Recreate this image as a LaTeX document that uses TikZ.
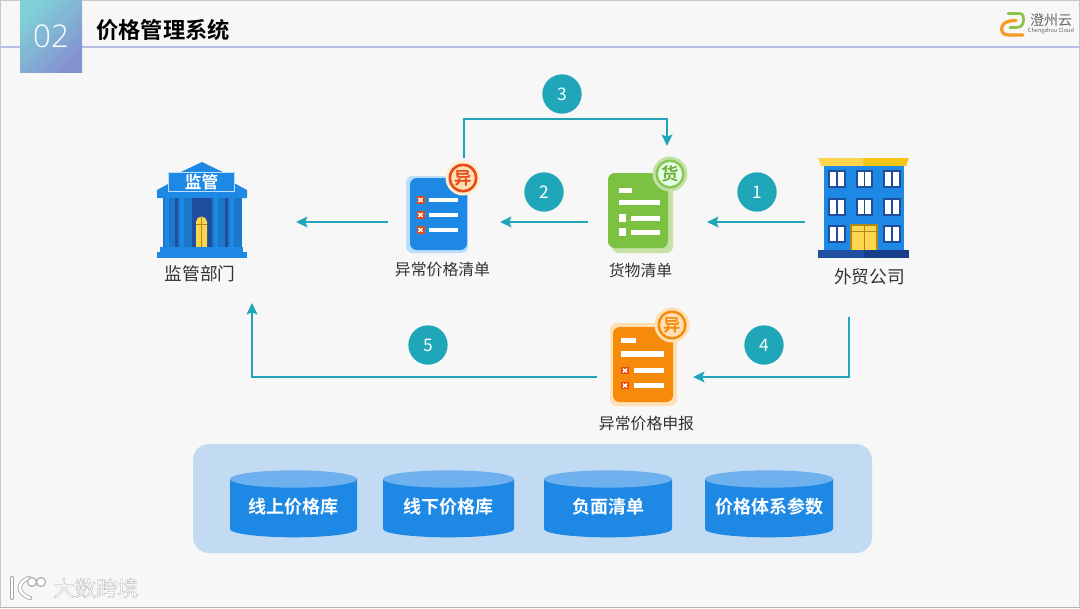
\documentclass[tikz,border=0pt]{standalone}
\usepackage{fontspec}
\setmainfont{Noto Sans CJK SC}
\newfontfamily\cjkbold[BoldFont={Noto Sans CJK SC Bold}]{Noto Sans CJK SC}
\newfontfamily\wmfont[FakeBold=1.2]{Noto Sans CJK SC}
\newfontfamily\latinthin{Open Sans Light}
\usetikzlibrary{arrows.meta,fit,calc}
\definecolor{teal1}{HTML}{1FA6B8}
\definecolor{blueA}{HTML}{1E88E5}
\definecolor{blueD}{HTML}{1E4E9C}
\definecolor{blueL}{HTML}{BBDEFB}
\definecolor{panel}{HTML}{C3DBF2}
\definecolor{capblue}{HTML}{6FB0EF}
\definecolor{greenA}{HTML}{7CC142}
\definecolor{greenL}{HTML}{C5E1A5}
\definecolor{orangeA}{HTML}{F58A0B}
\definecolor{orangeL}{HTML}{FFE0B2}
\definecolor{redA}{HTML}{E64A19}
\definecolor{yellowA}{HTML}{FFD54F}
\definecolor{yellowB}{HTML}{F5C518}
\tikzset{
  x=0.75pt,y=-0.75pt,
  flow/.style={draw=teal1,line width=1.4pt,-{Stealth[length=8.5pt,width=8pt,inset=1.5pt]}},
  numdot/.style={circle,fill=teal1,text=white,minimum size=29.5pt,inner sep=0pt,font=\fontsize{13}{13}\selectfont},
  lab/.style={text=black!80,inner sep=0pt,font=\fontsize{11.9}{12}\selectfont},
  port/.style={inner sep=0pt,outer sep=0pt},
  bar/.style={fill=white,draw=none},
  dbtext/.style={text=white,inner sep=0pt,font=\cjkbold\bfseries\fontsize{13.5}{14}\selectfont},
  badgetext/.style={inner sep=0pt,font=\cjkbold\bfseries\fontsize{13}{13}\selectfont},
}
\newcommand{\dbcyl}[5]{% name, x1, x2, cx, text
  \fill[blueA] (#2,479) -- (#2,529) arc[start angle=180,end angle=0,x radius={(#3-#2)/2},y radius=8.3] -- (#3,479) -- cycle;
  \fill[capblue] (#4,479) ellipse [x radius={(#3-#2)/2}, y radius=8.7];
  \node[dbtext] (#1) at (#4,507) {#5};
}
\newcommand{\xmark}[2]{% x,y centre
  \fill[redA] (#1-4,#2-3.7) rectangle (#1+4,#2+3.7);
  \draw[white,line width=1.1pt] (#1-2,#2-1.8) -- (#1+2,#2+1.8) (#1-2,#2+1.8) -- (#1+2,#2-1.8);
}
\begin{document}
\begin{tikzpicture}
\useasboundingbox (0,0) rectangle (1080,608);
\fill[black!3] (0,0) rectangle (1080,608);
\draw[black!22,line width=1.1pt] (0.5,608) -- (0.5,0.5) -- (1079.5,0.5) -- (1079.5,608);
\draw[black!30,line width=.8pt] (0,607.5) -- (1080,607.5);

% header
\draw[color={rgb,255:red,184;green,188;blue,230},line width=1.9pt] (0,47) -- (1080,47);
\path[left color={rgb,255:red,128;green,208;blue,216},right color={rgb,255:red,132;green,146;blue,208},shading angle=45] (20,0) rectangle (82,72.5);
\node[text=white,inner sep=0pt,font=\latinthin\fontsize{23.5}{24}\selectfont] (num) at (51,36) {02};
\node[anchor=west,inner sep=0pt,font=\cjkbold\bfseries\fontsize{16.7}{17}\selectfont] (title) at (96,30) {价格管理系统};

% corporate logo
\draw[color={rgb,255:red,139;green,195;blue,74},line width=2pt,line cap=round,line join=round]
  (1008,13.5) -- (1019,13.5) .. controls (1024,13.5) and (1023.5,17) .. (1023.5,20) .. controls (1023.5,25) and (1021,27.5) .. (1016,27.5) -- (1010,27.5);
\draw[color={rgb,255:red,243;green,156;blue,40},line width=2.4pt,line cap=round,line join=round]
  (1023,35) -- (1008,35) .. controls (1002,35) and (1001,30) .. (1002,27) .. controls (1003,23) and (1007,20.5) .. (1016,20.5);
\node[inner sep=0pt,text=black!60,font=\fontsize{10.5}{11}\selectfont] (lg1) at (1051,20) {澄州云};
\node[inner sep=0pt,text=black!60,font=\fontsize{4.2}{5}\selectfont] (lg2) at (1051,31) {Chengzhou Cloud};

% bank
\fill[blueA] (168,178) -- (202,162) -- (235,178) -- cycle;
\fill[blueA] (157,190) -- (170,183) -- (234,183) -- (247,190) -- (247,198) -- (157,198) -- cycle;
\fill[blueD] (165,198) rectangle (240,248);
\foreach \a/\b in {163/175,178/192,212/225,228/242}{
  \fill[blueA!88!black] (\a,198) rectangle (\b,248);
  \fill[blueA] (\a+2,198) rectangle (\a+6,248);
}
\fill[yellowA] (196,247) -- (196,222) arc[start angle=180,end angle=360,x radius=5.5,y radius=5.5] -- (207,247) -- cycle;
\draw[yellowB!70!black,line width=.4pt] (201.5,217) -- (201.5,247) (196,224) -- (207,224);
\fill[blueA] (160,247) rectangle (243,252);
\fill[blueA] (157,252) rectangle (247,257.5);
\draw[fill=blueA,draw=blueL,line width=.9pt] (168.5,172.5) rectangle (234.5,191.5);
\node[text=white,inner sep=0pt,font=\cjkbold\bfseries\fontsize{12.5}{13}\selectfont] (bankt) at (201.5,182) {监管};
\node[port,fit={(156,162)(296,303)}] (jg) {};
\node[lab,font=\fontsize{13.3}{14}\selectfont] (jgl) at (200,274) {监管部门};

% exception list
\fill[rounded corners=5pt,blueL] (406,176) rectangle (468,253);
\fill[rounded corners=5pt,blueA] (410,178) rectangle (467,250);
\foreach \y in {200,215,230}{
  \xmark{420.5}{\y}
  \fill[bar] (428.5,\y-2.4) rectangle (457.5,\y+2.4);
}
\fill[orangeL!60] (463,178) circle (17.5);
\fill[redA] (463,178) circle (14.5);
\fill[orangeL] (463,178) circle (11.8);
\node[badgetext,text=redA] (ycb) at (463,178) {异};
\node[port,fit={(388,158)(500,253)}] (yc) {};
\node[lab] (ycl) at (442.5,270) {异常价格清单};

% goods list
\fill[rounded corners=5pt,greenL] (612,178) rectangle (673,253);
\fill[rounded corners=5pt,greenA] (608,173) rectangle (668,248);
\fill[bar] (618.5,188) rectangle (632,193);
\fill[bar] (618.5,200) rectangle (659.5,205);
\fill[bar] (618.5,214) rectangle (626,222);
\fill[bar] (631,216) rectangle (659.5,221);
\fill[bar] (618.5,228) rectangle (626,236);
\fill[bar] (631,230) rectangle (659.5,235);
\fill[greenL] (670,174) circle (17.5);
\fill[greenA!90!white] (670,174) circle (14.5);
\fill[green!10!white] (670,174) circle (12);
\node[badgetext,text=greenA!90!black] (gdb) at (670,174) {货};
\node[port,fit={(588,146)(707,253)}] (gd) {};
\node[lab] (gdl) at (640.5,270) {货物清单};

% company building
\fill[yellowA] (818,158) -- (863,158) -- (863,166) -- (821,166) -- cycle;
\fill[yellowB] (863,158) -- (909,158) -- (906,166) -- (863,166) -- cycle;
\fill[blueA] (824,166) rectangle (904,250);
\foreach \wx/\wy in {828/170,855.5/170,883/170,828/198,855.5/198,883/198,828/225,883/225}{
  \fill[blueD] (\wx,\wy) rectangle (\wx+17.5,\wy+18);
  \fill[white] (\wx+2,\wy+2) rectangle (\wx+8,\wy+16);
  \fill[white] (\wx+9.5,\wy+2) rectangle (\wx+15.5,\wy+16);
}
\fill[yellowB!70!black] (850,224) rectangle (878,250);
\fill[yellowA] (852,225.5) rectangle (876,250);
\draw[yellowB!70!black,line width=.5pt] (864,225.5) -- (864,250) (852,231) -- (876,231);
\fill[color={rgb,255:red,32;green,80;blue,160}] (818,250) rectangle (864,258);
\fill[color={rgb,255:red,26;green,63;blue,138}] (864,250) rectangle (909,258);
\node[port,fit={(805,158)(909,317)}] (co) {};
\node[lab,font=\fontsize{13.3}{14}\selectfont] (col) at (869.5,277) {外贸公司};

% exception report
\fill[rounded corners=5pt,orangeL] (610,323) rectangle (677,406);
\fill[rounded corners=5pt,orangeA] (613,327) rectangle (673,402);
\fill[bar] (621,338) rectangle (636,343);
\fill[bar] (621,351) rectangle (664,356.5);
\foreach \y in {370.5,385.5}{
  \xmark{625}{\y}
  \fill[bar] (634,\y-2.5) rectangle (664,\y+2.5);
}
\fill[orangeL] (672,325) circle (17.5);
\fill[orangeA] (672,325) circle (14.5);
\fill[orangeL] (672,325) circle (12);
\node[badgetext,text=orangeA] (abb) at (672,325) {异};
\node[port,fit={(597,323)(693,406)}] (ab) {};
\node[lab] (abl) at (646.5,424) {异常价格申报};

% row references
\coordinate (r1) at (0,222);
\coordinate (r2) at (0,377);
\coordinate (c3a) at (464,0);
\coordinate (c3b) at (667,0);
\coordinate (c3t) at (0,119);
\coordinate (c4) at (849,0);
\coordinate (c5) at (252,0);

% connectors
\draw[flow] (co.west |- r1) -- (gd.east |- r1);
\draw[flow] (gd.west |- r1) -- (yc.east |- r1);
\draw[flow] (yc.west |- r1) -- (jg.east |- r1);
\draw[flow] (yc.north -| c3a) -- (c3a |- c3t) -- (c3b |- c3t) -- (gd.north -| c3b);
\draw[flow] (co.south -| c4) -- (c4 |- r2) -- (ab.east |- r2);
\draw[flow] (ab.west |- r2) -- (c5 |- r2) -- (jg.south -| c5);

% numbers
\node[numdot] (n1) at (757,192) {1};
\node[numdot] (n2) at (544,192) {2};
\node[numdot] (n3) at (562,94) {3};
\node[numdot] (n4) at (764,345) {4};
\node[numdot] (n5) at (428,345) {5};

% data panel
\fill[panel,rounded corners=12pt] (193,444) rectangle (872,553);
\dbcyl{db1}{230}{357}{293.5}{线上价格库}
\dbcyl{db2}{383}{514}{448.5}{线下价格库}
\dbcyl{db3}{544}{672}{608}{负面清单}
\dbcyl{db4}{705}{833}{769}{价格体系参数}

% watermark
\draw[black!35,line width=3.2pt,line cap=round] (12,578) -- (12,598);
\draw[black!35,line width=3.2pt,line cap=round] (29,578) .. controls (17,582) and (16,593) .. (30,598);
\draw[white,line width=2pt,line cap=round] (12,578) -- (12,598);
\draw[white,line width=2pt,line cap=round] (29,578) .. controls (17,582) and (16,593) .. (30,598);
\draw[black!35,fill=white,line width=.8pt] (32,582) circle (4.5) (41,582) circle (4.5);
\node[inner sep=0pt,text=white] (wm) at (96,588) {\special{pdf:code 0.65 0.65 0.65 RG}\wmfont\fontsize{16}{16}\selectfont 大数跨境};
\end{tikzpicture}
\end{document}
